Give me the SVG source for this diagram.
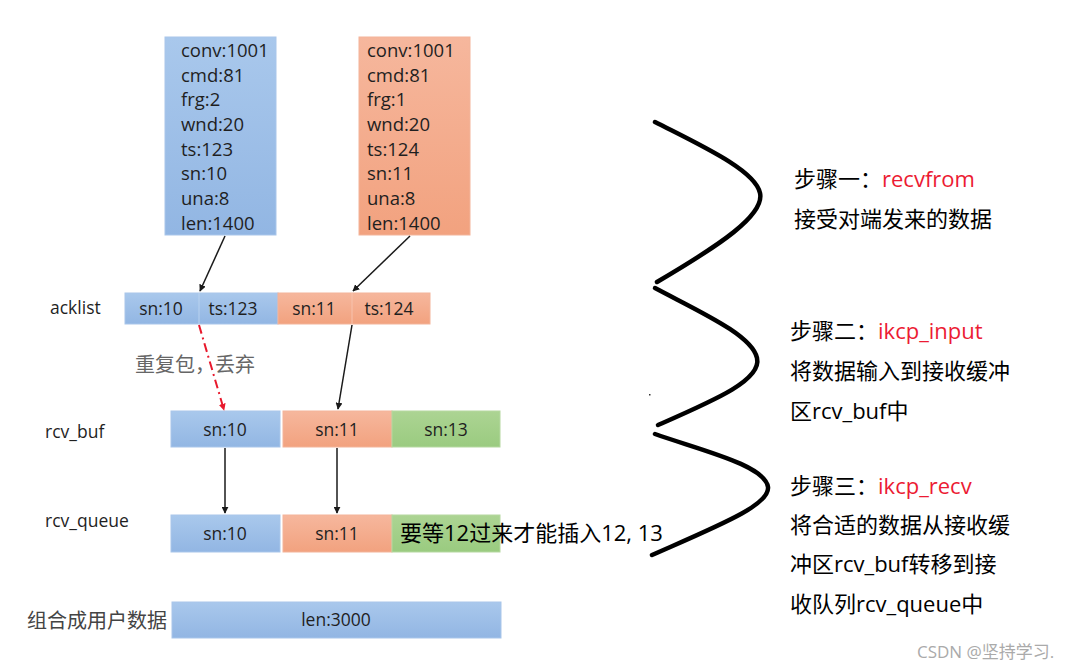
<svg xmlns="http://www.w3.org/2000/svg" width="1081" height="671" viewBox="0 0 1081 671">
<style>
.t{font-family:"Open Sans","Liberation Sans","Noto Sans CJK SC",sans-serif;fill:#1f1f1f}
.pk{font-size:18.5px}
.c{font-size:17.5px;text-anchor:middle}
.lbl{font-size:17.5px}
.cn{font-family:"Open Sans","Noto Sans CJK SC",sans-serif;font-size:22px;fill:#000}
.red{fill:#ec1b33}
.gr{font-family:"Noto Sans CJK SC",sans-serif;font-size:20px;fill:#555}
.blue{fill:url(#gb);stroke:#a9c6ea;stroke-width:1}
.org{fill:url(#go);stroke:#f3b49a;stroke-width:1}
.grn{fill:url(#gg);stroke:#b5d8a0;stroke-width:1}
.ar{stroke:#1a1a1a;stroke-width:1.5;fill:none;marker-end:url(#ah)}
.br{stroke:#000;stroke-width:4.5;fill:none;stroke-linecap:round}
</style>
<defs>
<linearGradient id="gb" x1="0" y1="0" x2="0" y2="1"><stop offset="0" stop-color="#a9c8ec"/><stop offset="1" stop-color="#92b6e3"/></linearGradient>
<linearGradient id="go" x1="0" y1="0" x2="0" y2="1"><stop offset="0" stop-color="#f6b79d"/><stop offset="1" stop-color="#f2a27f"/></linearGradient>
<linearGradient id="gg" x1="0" y1="0" x2="0" y2="1"><stop offset="0" stop-color="#acd493"/><stop offset="1" stop-color="#9acb80"/></linearGradient>
<marker id="ah" viewBox="0 0 10 10" refX="9" refY="5" markerWidth="7" markerHeight="7" orient="auto" markerUnits="userSpaceOnUse"><path d="M0,0 L10,5 L0,10 z" fill="#1a1a1a"/></marker>
<marker id="ahr" viewBox="0 0 10 10" refX="9" refY="5" markerWidth="7" markerHeight="7" orient="auto" markerUnits="userSpaceOnUse"><path d="M0,0 L10,5 L0,10 z" fill="#e8192c"/></marker>
</defs>
<rect width="1081" height="671" fill="#fff"/>

<g id="pkt1">
<rect x="165" y="37" width="111" height="198" class="blue"/>
<text class="t pk" x="181" y="57">conv:1001</text>
<text class="t pk" x="181" y="82">cmd:81</text>
<text class="t pk" x="181" y="106">frg:2</text>
<text class="t pk" x="181" y="131">wnd:20</text>
<text class="t pk" x="181" y="156">ts:123</text>
<text class="t pk" x="181" y="180">sn:10</text>
<text class="t pk" x="181" y="205">una:8</text>
<text class="t pk" x="181" y="230">len:1400</text>
</g>
<g id="pkt2">
<rect x="359" y="37" width="111" height="198" class="org"/>
<text class="t pk" x="367" y="57">conv:1001</text>
<text class="t pk" x="367" y="82">cmd:81</text>
<text class="t pk" x="367" y="106">frg:1</text>
<text class="t pk" x="367" y="131">wnd:20</text>
<text class="t pk" x="367" y="156">ts:124</text>
<text class="t pk" x="367" y="180">sn:11</text>
<text class="t pk" x="367" y="205">una:8</text>
<text class="t pk" x="367" y="230">len:1400</text>
</g>

<g id="acklist">
<text class="t lbl" x="50" y="314">acklist</text>
<rect x="125" y="293" width="153" height="31" class="blue"/>
<rect x="278" y="293" width="152" height="31" class="org"/>
<line x1="199" y1="293" x2="199" y2="324" stroke="#b9d2ef" stroke-width="1"/>
<line x1="352" y1="293" x2="352" y2="324" stroke="#f7c2ad" stroke-width="1"/>
<text class="t c" x="161" y="315">sn:10</text>
<text class="t c" x="233" y="315">ts:123</text>
<text class="t c" x="314" y="315">sn:11</text>
<text class="t c" x="389" y="315">ts:124</text>
</g>

<g id="rcvbuf">
<text class="t lbl" x="45" y="438">rcv_buf</text>
<rect x="171" y="411" width="109" height="36" class="blue"/>
<rect x="283" y="411" width="109" height="36" class="org"/>
<rect x="392" y="411" width="108" height="36" class="grn"/>
<text class="t c" x="225" y="436">sn:10</text>
<text class="t c" x="337" y="436">sn:11</text>
<text class="t c" x="446" y="436">sn:13</text>
</g>

<g id="rcvqueue">
<text class="t lbl" x="45" y="527">rcv_queue</text>
<rect x="171" y="515" width="109" height="37" class="blue"/>
<rect x="283" y="515" width="109" height="37" class="org"/>
<rect x="392" y="515" width="108" height="37" class="grn"/>
<text class="t c" x="225" y="540">sn:10</text>
<text class="t c" x="337" y="540">sn:11</text>
<text class="cn" x="400" y="541">要等12过来才能插入12, 13</text>
</g>

<g id="userdata">
<text class="gr" x="27" y="628" style="fill:#444">组合成用户数据</text>
<rect x="172" y="602" width="329" height="36" class="blue"/>
<text class="t c" x="336" y="626">len:3000</text>
</g>

<g id="connectors">
<line x1="225" y1="236" x2="200" y2="291" class="ar"/>
<line x1="410" y1="236" x2="353" y2="291" class="ar"/>
<line x1="199" y1="325" x2="224" y2="410" stroke="#e8192c" stroke-width="2" stroke-dasharray="9,4,2,4" fill="none" marker-end="url(#ahr)"/>
<line x1="352" y1="325" x2="338" y2="409" class="ar"/>
<line x1="225" y1="448" x2="225" y2="513" class="ar"/>
<line x1="337" y1="448" x2="337" y2="513" class="ar"/>
</g>

<g id="braces">
<path class="br" d="M655,122 C700,145 755,170 760,193 C765,215 720,245 657,282"/>
<path class="br" d="M655,288 C700,312 752,335 757,358 C762,380 715,400 658,425"/>
<path class="br" d="M655,434 C700,450 765,465 768,487 C770,505 720,525 652,555"/>
<rect x="649" y="394" width="1.5" height="1.5" fill="#333"/>
</g>

<g id="step1">
<text class="cn" x="794" y="187">步骤一：<tspan class="red">recvfrom</tspan></text>
<text class="cn" x="794" y="227">接受对端发来的数据</text>
</g>
<g id="step2">
<text class="cn" x="790" y="339">步骤二：<tspan class="red">ikcp_input</tspan></text>
<text class="cn" x="790" y="379">将数据输入到接收缓冲</text>
<text class="cn" x="790" y="419">区rcv_buf中</text>
</g>
<g id="step3">
<text class="cn" x="790" y="494">步骤三：<tspan class="red">ikcp_recv</tspan></text>
<text class="cn" x="790" y="533">将合适的数据从接收缓</text>
<text class="cn" x="790" y="572">冲区rcv_buf转移到接</text>
<text class="cn" x="790" y="612">收队列rcv_queue中</text>
</g>

<text class="gr" x="135" y="372" style="font-size:20px;fill:#666">重复包，丢弃</text>
<text x="917" y="658" style="font-family:'Open Sans','Noto Sans CJK SC',sans-serif;font-size:17px;fill:#aaa">CSDN @坚持学习.</text>
</svg>
